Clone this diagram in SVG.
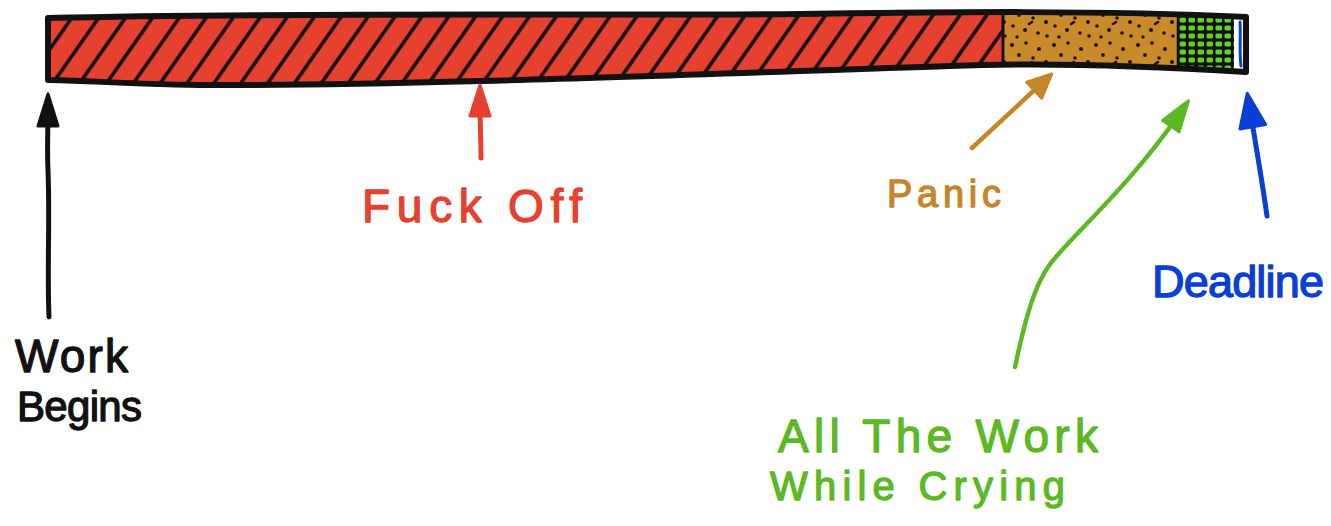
<svg xmlns="http://www.w3.org/2000/svg" width="1331" height="526" viewBox="0 0 1331 526">
<style>
.hand{font-family:"Liberation Sans","DejaVu Sans",sans-serif;stroke-width:1.3;stroke-linejoin:round}
.conn{fill:none;stroke-linecap:round;stroke-linejoin:round}
.k{fill:#111;stroke:#111}
.r{fill:#e6412f;stroke:#e6412f}
.o{fill:#c58629;stroke:#c58629}
.g{fill:#5cb925;stroke:#5cb925}
.b{fill:#0a3fd6;stroke:#0a3fd6}
.conn.k,.conn.r,.conn.o,.conn.g,.conn.b{fill:none}
</style>
<defs>
<clipPath id="barClip">
<path id="barShape" d="M48,18 C300,12 600,16 800,14 C950,12 1100,10 1246,17 L1246,72 C1150,66 1050,62 950,66 C700,74 400,86 200,85 C120,84 80,80 48,80 Z"/>
</clipPath>
<pattern id="hatch" patternUnits="userSpaceOnUse" width="22" height="10" patternTransform="rotate(35)">
<rect width="22" height="10" fill="#e6402f"/>
<line x1="3" y1="-1" x2="3" y2="11" stroke="#111" stroke-width="3.6"/>
</pattern>
<pattern id="dots" patternUnits="userSpaceOnUse" width="42" height="40">
<rect width="42" height="40" fill="#c88a2b"/>
<g fill="#1a1208">
<circle cx="4" cy="5" r="2"/><circle cx="18" cy="3" r="1.8"/><circle cx="31" cy="9" r="2"/>
<circle cx="11" cy="15" r="1.9"/><circle cx="25" cy="18" r="1.8"/><circle cx="38" cy="22" r="2"/>
<circle cx="5" cy="26" r="1.8"/><circle cx="17" cy="30" r="2"/><circle cx="30" cy="33" r="1.8"/>
<circle cx="9" cy="37" r="1.7"/><circle cx="39" cy="36" r="1.8"/>
<line x1="21" y1="24" x2="24" y2="22" stroke="#1a1208" stroke-width="2.6" stroke-linecap="round"/>
</g>
</pattern>
<pattern id="grid" patternUnits="userSpaceOnUse" x="1178" y="16" width="9" height="8">
<rect width="9" height="8" fill="#111"/>
<rect x="1.5" y="1.5" width="6.5" height="5" rx="1.5" fill="#62d02a"/>
</pattern>
<marker id="headK" markerUnits="userSpaceOnUse" orient="auto" refX="0" refY="0" markerWidth="1" markerHeight="1" overflow="visible">
<path d="M16,0 L-16,-10 L-16,10 Z" fill="#111" stroke="#111" stroke-width="3" stroke-linejoin="round"/>
</marker>
<marker id="headR" markerUnits="userSpaceOnUse" orient="auto" refX="0" refY="0" markerWidth="1" markerHeight="1" overflow="visible">
<path d="M16,0 L-15,-10 L-15,10 Z" fill="#e6412f" stroke="#e6412f" stroke-width="3" stroke-linejoin="round"/>
</marker>
<marker id="headO" markerUnits="userSpaceOnUse" orient="auto" refX="0" refY="0" markerWidth="1" markerHeight="1" overflow="visible">
<path d="M12,0 L-12,-11 L-12,11 Z" fill="#c58629" stroke="#c58629" stroke-width="3" stroke-linejoin="round"/>
</marker>
<marker id="headG" markerUnits="userSpaceOnUse" orient="auto" refX="0" refY="0" markerWidth="1" markerHeight="1" overflow="visible">
<path d="M15,0 L-16,-10 L-16,10 Z" fill="#5cb925" stroke="#5cb925" stroke-width="3" stroke-linejoin="round"/>
</marker>
<marker id="headB" markerUnits="userSpaceOnUse" orient="auto" refX="0" refY="0" markerWidth="1" markerHeight="1" overflow="visible">
<path d="M17,0 L-17,-13 L-17,13 Z" fill="#0a3fd6" stroke="#0a3fd6" stroke-width="3" stroke-linejoin="round"/>
</marker>
</defs>

<g id="bar">
<g clip-path="url(#barClip)">
<g id="seg-fuckoff"><rect x="40" y="5" width="963" height="90" fill="url(#hatch)"/></g>
<g id="seg-panic"><rect x="1003" y="5" width="175" height="90" fill="url(#dots)"/></g>
<g id="seg-crying"><rect x="1178" y="5" width="56" height="90" fill="url(#grid)"/><rect x="1234" y="5" width="14" height="90" fill="#fff"/></g>
<g id="seg-deadline"><path d="M1240,22 C1241,35 1239,50 1241,66" fill="none" stroke="#0a3fd6" stroke-width="3" stroke-linecap="round"/></g>
<line x1="1003" y1="5" x2="1003" y2="95" stroke="#111" stroke-width="3"/>
<line x1="1178" y1="5" x2="1178" y2="95" stroke="#111" stroke-width="2.5"/>
</g>
<use href="#barShape" fill="none" stroke="#111" stroke-width="6" stroke-linejoin="round"/>
</g>

<g id="connectors" stroke-width="5">
<path class="conn k" d="M49,317 C47,270 50,220 48,170 C47,150 48,130 48,110" marker-end="url(#headK)"/>
<path class="conn r" d="M481,158 C481,140 480,125 480,101" marker-end="url(#headR)"/>
<path class="conn o" stroke-width="4.5" d="M972,148 L1043,82" marker-end="url(#headO)"/>
<path class="conn g" stroke-width="4.5" d="M1015,367 C1025,320 1035,280 1055,258 C1080,228 1130,185 1180,113" marker-end="url(#headG)"/>
<path class="conn b" d="M1267,216 C1262,180 1255,140 1250,110" marker-end="url(#headB)"/>
</g>

<g id="label-work-begins">
<text class="hand k" x="15" y="372" font-size="46" textLength="113" lengthAdjust="spacing">Work</text>
<text class="hand k" x="17" y="421" font-size="42" textLength="125" lengthAdjust="spacing">Begins</text>
</g>
<g id="label-fuck-off">
<text class="hand r" x="362" y="222" font-size="46" textLength="220" lengthAdjust="spacing">Fuck Off</text>
</g>
<g id="label-panic">
<text class="hand o" x="887" y="207" font-size="38" textLength="114" lengthAdjust="spacing">Panic</text>
</g>
<g id="label-deadline">
<text class="hand b" x="1152" y="297" font-size="45" textLength="172" lengthAdjust="spacing">Deadline</text>
</g>
<g id="label-crying">
<text class="hand g" x="778" y="452" font-size="46" textLength="320" lengthAdjust="spacing">All The Work</text>
<text class="hand g" x="770" y="500" font-size="40" textLength="295" lengthAdjust="spacing">While Crying</text>
</g>
</svg>
